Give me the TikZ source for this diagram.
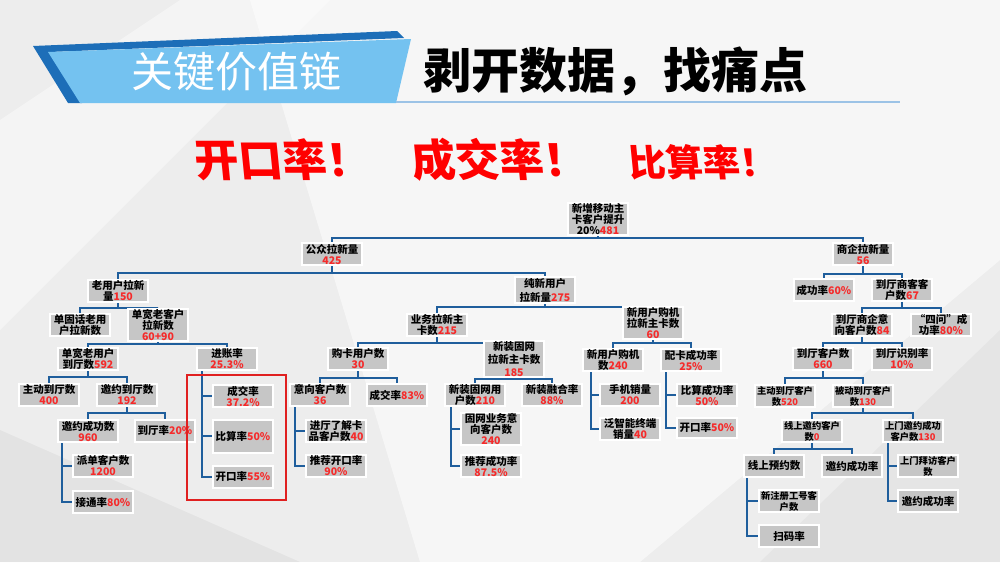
\documentclass[tikz,border=0pt]{standalone}
\usepackage{fontspec}
\setmainfont{Noto Sans CJK SC}
\definecolor{connblue}{HTML}{1F5E9C}
\definecolor{boxgray}{HTML}{C6C6C6}
\definecolor{numred}{HTML}{F52A2A}
\definecolor{bggray}{HTML}{EDEDED}
\definecolor{banlight}{HTML}{74C2F0}
\definecolor{bandark}{HTML}{1D6EB8}
\definecolor{ulblue}{HTML}{9CC3E6}
\definecolor{hlred}{HTML}{E02020}
\pgfdeclarelayer{bgl}
\pgfdeclarelayer{lines}
\pgfsetlayers{bgl,lines,main}
\newcommand\rd[1]{\textcolor{numred}{#1}}
% parent, bar y, first child, last child
\newcommand\tbar[4]{%
  \draw[conn] (#1.south) -- (#1.south |- 0,#2);
  \draw[conn] (#3.north) -- (#3.north |- 0,#2) -- (#4.north |- 0,#2) -- (#4.north);}
% parent, x of vertical line, first child, last child
\newcommand\comb[4]{%
  \draw[conn] (#1.south -| #2,0) |- (#4.west);
  \draw[conn] (#2,0 |- #3.west) -- (#3.west);}
\begin{document}
\begin{tikzpicture}[x=1pt,y=-1pt,
  box/.style={fill=boxgray, draw=white, line width=2pt, minimum width=60pt,
    minimum height=22pt, inner sep=0.5pt, align=center,
    font=\fontsize{10.5}{11}\selectfont\bfseries},
  sm/.style={font=\fontsize{9.3}{11}\selectfont\bfseries},
  tall/.style={minimum height=32pt},
  conn/.style={draw=connblue, line width=2.6pt, line join=miter},
  redtxt/.style={text=red, font=\fontsize{44}{44}\selectfont\bfseries, xslant=-0.1}]
\useasboundingbox (0,0) rectangle (1000,562);
\begin{pgfonlayer}{bgl}
\fill[bggray] (0,0) rectangle (1000,562);
\fill[white, opacity=0.55] (250,0) -- (1000,0) -- (1000,260) -- (640,562) -- (420,562) -- cycle;
\fill[white, opacity=0.4] (0,120) -- (180,0) -- (330,0) -- (0,330) -- cycle;
\fill[black, opacity=0.04] (0,562) -- (0,430) -- (300,562) -- cycle;
\fill[black, opacity=0.03] (1000,562) -- (1000,330) -- (760,562) -- cycle;
% banner
\fill[bandark] (33,46) -- (397,31) -- (404,38) -- (50,52) -- (82,103) -- (68,103) -- cycle;
\fill[banlight] (48,52) -- (411,39) -- (396,103) -- (80,103) -- cycle;
\draw[ulblue, line width=1.2pt] (396,102) -- (900,102);
\end{pgfonlayer}
\node[text=white, font=\fontsize{42}{42}\selectfont] (ban) at (236,72) {关键价值链};
\node[font=\fontsize{48}{48}\selectfont\bfseries] (title) at (615,71) {剥开数据，找痛点};
\node[redtxt] (r1) at (283,160) {开口率！};
\node[redtxt] (r2) at (500,160) {成交率！};
\node[redtxt, font=\fontsize{37}{37}\selectfont\bfseries] (r3) at (703,162) {比算率！};

% nodes
\node[box, tall] (root) at (598,219) {新增移动主\\卡客户提升\\20\%\rd{481}};
\node[box] (gz) at (332,254) {公众拉新量\\\rd{425}};
\node[box] (sq) at (863,254) {商企拉新量\\\rd{56}};
\node[box] (lyh) at (118,291) {老用户拉新\\量\rd{150}};
\node[box, font=\fontsize{10.5}{14}\selectfont\bfseries, minimum height=26pt] (cx) at (545,290) {纯新用户\\拉新量\rd{275}};
\node[box] (dgh) at (80,325) {单固话老用\\户拉新数};
\node[box, tall] (dk) at (158,325) {单宽老客户\\拉新数\\\rd{60+90}};
\node[box] (dkdt) at (88,359) {单宽老用户\\到厅数\rd{592}};
\node[box] (jz) at (227,359) {进账率\\\rd{25.3\%}};
\node[box] (zd) at (49,395) {主动到厅数\\\rd{400}};
\node[box] (yy) at (127,395) {邀约到厅数\\\rd{192}};
\node[box] (yycg) at (88,431) {邀约成功数\\\rd{960}};
\node[box] (dtl) at (165,431) {到厅率\rd{20\%}};
\node[box] (pd) at (103,466) {派单客户数\\\rd{1200}};
\node[box] (jt) at (103,502) {接通率\rd{80\%}};
\node[box] (cj1) at (243,396) {成交率\\\rd{37.2\%}};
\node[box, minimum height=33pt] (bs1) at (243,436) {比算率\rd{50\%}};
\node[box] (kk1) at (243,477) {开口率\rd{55\%}};
\node[draw=hlred, line width=2pt, minimum width=99pt, minimum height=125pt] (hl) at (236.5,437.5) {};

\node[box] (yw) at (437,325) {业务拉新主\\卡数\rd{215}};
\node[box, tall] (xyh) at (653,323) {新用户购机\\拉新主卡数\\\rd{60}};
\node[box] (gk) at (358,359) {购卡用户数\\\rd{30}};
\node[box, tall, font=\fontsize{10.5}{13}\selectfont\bfseries, minimum height=24pt] (xz) at (514,359) {新装固网\\拉新主卡数\\\rd{185}};
\node[box] (yx) at (320,395) {意向客户数\\\rd{36}};
\node[box] (cj2) at (397,395) {成交率\rd{83\%}};
\node[box] (jt2) at (336,431) {进厅了解卡\\品客户数\rd{40}};
\node[box] (tj) at (336,466) {推荐开口率\\\rd{90\%}};
\node[box] (xzyh) at (475,395) {新装固网用\\户数\rd{210}};
\node[box] (rh) at (552,395) {新装融合率\\\rd{88\%}};
\node[box, tall] (gw) at (491,429) {固网业务意\\向客户数\\\rd{240}};
\node[box] (tjcg) at (491,466) {推荐成功率\\\rd{87.5\%}};
\node[box] (gj) at (613,360) {新用户购机\\数\rd{240}};
\node[box] (pk) at (691,360) {配卡成功率\\\rd{25\%}};
\node[box] (sj) at (630,395) {手机销量\\\rd{200}};
\node[box] (fz) at (630,429) {泛智能终端\\销量\rd{40}};
\node[box] (bs2) at (707,395) {比算成功率\\\rd{50\%}};
\node[box, minimum height=20pt] (kk2) at (707,428) {开口率\rd{50\%}};

\node[box] (cg) at (824,290) {成功率\rd{60\%}};
\node[box] (dtsk) at (902,290) {到厅商客客\\户数\rd{67}};
\node[box] (dtsq) at (862,325) {到厅商企意\\向客户数\rd{84}};
\node[box] (sw) at (941,325) {“四问”成\\功率\rd{80\%}};
\node[box] (dtkh) at (823,359) {到厅客户数\\\rd{660}};
\node[box] (sb) at (902,359) {到厅识别率\\\rd{10\%}};
\node[box, sm] (zddt) at (785,396) {主动到厅客户\\数\rd{520}};
\node[box, sm] (bddt) at (863,396) {被动到厅客户\\数\rd{130}};
\node[box, sm] (xs) at (812,431) {线上邀约客户\\数\rd{0}};
\node[box, sm] (smn) at (913,431) {上门邀约成功\\客户数\rd{130}};
\node[box] (xsyy) at (774,466) {线上预约数};
\node[box] (yycgl) at (852,466) {邀约成功率};
\node[box, sm] (xzc) at (789,501) {新注册工号客\\户数};
\node[box] (smr) at (789,536) {扫码率};
\node[box, sm] (smbf) at (928,466) {上门拜访客户\\数};
\node[box] (yycgl2) at (928,501) {邀约成功率};

\begin{pgfonlayer}{lines}
\tbar{root}{238}{gz}{sq}
\tbar{gz}{273}{lyh}{cx}
\tbar{lyh}{308}{dgh}{dk}
\tbar{dk}{344}{dkdt}{jz}
\tbar{dkdt}{377}{zd}{yy}
\tbar{yy}{413}{yycg}{dtl}
\comb{yycg}{62}{pd}{jt}
\draw[conn] (jz.south -| 202,0) |- (kk1.west);
\draw[conn] (202,0 |- cj1.west) -- (cj1.west);
\draw[conn] (202,0 |- bs1.west) -- (bs1.west);
\tbar{cx}{307}{yw}{xyh}
\tbar{yw}{343}{gk}{xz}
\tbar{gk}{378}{yx}{cj2}
\tbar{xz}{379}{xzyh}{rh}
\comb{yx}{295}{jt2}{tj}
\comb{xzyh}{451}{gw}{tjcg}
\tbar{xyh}{343}{gj}{pk}
\comb{gj}{591}{sj}{fz}
\comb{pk}{666}{bs2}{kk2}
\tbar{sq}{274}{cg}{dtsk}
\tbar{dtsk}{308}{dtsq}{sw}
\tbar{dtsq}{343}{dtkh}{sb}
\tbar{dtkh}{378}{zddt}{bddt}
\tbar{bddt}{413}{xs}{smn}
\tbar{xs}{449}{xsyy}{yycgl}
\comb{xsyy}{747}{xzc}{smr}
\comb{smn}{888}{smbf}{yycgl2}
\end{pgfonlayer}
\end{tikzpicture}
\end{document}
